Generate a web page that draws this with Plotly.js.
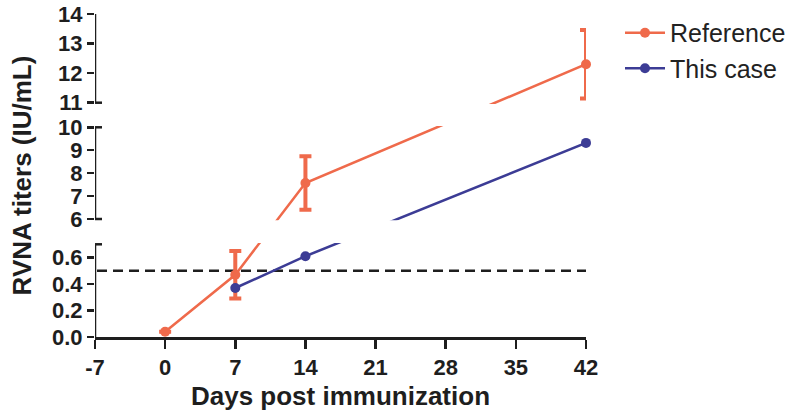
<!DOCTYPE html>
<html>
<head>
<meta charset="utf-8">
<script src="https://cdn.plot.ly/plotly-3.0.1.min.js"></script>
<style>
  html, body { margin: 0; padding: 0; background: #fff; }
  #chart { width: 800px; height: 415px; }
</style>
</head>
<body>
<div id="chart"></div>
<script>
// ---- data ----
const days = [0, 7, 14, 42];
const refValues = [0.04, 0.47, 7.57, 12.3];
const refErrors = [0, 0.18, 1.17, 1.16];
const caseDays = [7, 14, 42];
const caseValues = [0.37, 0.61, 9.32];
const threshold = 0.5;
const xTicks = [-7, 0, 7, 14, 21, 28, 35, 42];
const yTickValues = [0, 0.2, 0.4, 0.6, 6, 7, 8, 9, 10, 11, 12, 13, 14];
const yTickLabels = ['0.0', '0.2', '0.4', '0.6', '6', '7', '8', '9', '10', '11', '12', '13', '14'];

// ---- broken y-axis scale (segment layout, in axis units) ----
const segLo = [0, 6, 11];
const segHi = [0.7, 10, 14];
const segV0 = [0, 118, 234.3];
const segV1 = [92.7, 209.7, 323];
function brk(d) {
  let i = 0;
  while (i < segHi.length - 1 && d > segHi[i] + 1e-9) i++;
  return segV0[i] + (d - segLo[i]) * (segV1[i] - segV0[i]) / (segHi[i] - segLo[i]);
}

const orange = '#EF6A4B';
const blue = '#3C3C95';
const ink = '#1e1e1e';
const font = 'Liberation Sans, Arial, sans-serif';

const refY = refValues.map(brk);
const refPlus = refValues.map((v, i) => brk(v + refErrors[i]) - brk(v));
const refMinus = refValues.map((v, i) => brk(v) - brk(v - refErrors[i]));

const traces = [
  {
    x: days, y: refY, type: 'scatter', mode: 'lines+markers', name: 'Reference',
    legendgroup: 'a', cliponaxis: false,
    line: { color: orange, width: 2.5 },
    marker: { color: orange, size: 10 },
    error_y: { type: 'data', array: refPlus, arrayminus: refMinus, symmetric: false,
               color: orange, thickness: 4, width: 6 }
  },
  {
    x: caseDays, y: caseValues.map(brk), type: 'scatter', mode: 'lines+markers', name: 'This case',
    legendgroup: 'b', cliponaxis: false,
    line: { color: blue, width: 2.5 },
    marker: { color: blue, size: 10 }
  }
];

const shapes = [];
// threshold dashed line
shapes.push({ type: 'line', xref: 'x', yref: 'y', x0: -6.8, x1: 42, y0: brk(threshold), y1: brk(threshold),
  line: { color: ink, width: 2.5, dash: '10px,6px' }, layer: 'below' });
// gap masks
for (let i = 0; i < segLo.length - 1; i++) {
  shapes.push({ type: 'rect', xref: 'paper', yref: 'y', x0: 0.004, x1: 1.03,
    y0: segV1[i] + 1.3, y1: segV0[i + 1] - 1.3, fillcolor: '#ffffff', line: { width: 0 }, layer: 'above' });
}
// y-axis segments with break caps
for (let i = 0; i < segLo.length; i++) {
  shapes.push({ type: 'line', xref: 'x', yref: 'y', x0: -7, x1: -7, y0: segV0[i], y1: segV1[i],
    line: { color: ink, width: 2.5 }, layer: 'above' });
  if (i > 0) {
    shapes.push({ type: 'line', xref: 'x', yref: 'y', xsizemode: 'pixel', xanchor: -7, x0: -7, x1: 7,
      y0: segV0[i], y1: segV0[i], line: { color: ink, width: 2.5 }, layer: 'above' });
  }
  if (i < segLo.length - 1) {
    shapes.push({ type: 'line', xref: 'x', yref: 'y', xsizemode: 'pixel', xanchor: -7, x0: -7, x1: 7,
      y0: segV1[i], y1: segV1[i], line: { color: ink, width: 2.5 }, layer: 'above' });
  }
}

const layout = {
  width: 800, height: 415,
  margin: { l: 95, r: 214, t: 14, b: 78 },
  paper_bgcolor: '#fff', plot_bgcolor: '#fff',
  showlegend: true,
  legend: { xref: 'container', yref: 'container', x: 0.775, y: 0.976, xanchor: 'left', yanchor: 'top',
            tracegroupgap: 0, itemwidth: 40,
            font: { family: font, size: 25, color: '#222' }, bgcolor: 'rgba(0,0,0,0)' },
  xaxis: {
    range: [-7, 42], tickvals: xTicks, ticktext: xTicks.map(String),
    showgrid: false, zeroline: false, showline: true, linecolor: ink, linewidth: 2.5,
    ticks: 'outside', ticklen: 9, tickwidth: 2.5, tickcolor: ink,
    tickfont: { family: font, size: 22, color: ink, weight: 'bold' },
    title: { text: '<b>Days post immunization</b>', font: { family: font, size: 26, color: ink }, standoff: 8 }
  },
  yaxis: {
    range: [0, 323], tickvals: yTickValues.map(brk), ticktext: yTickLabels,
    showgrid: false, zeroline: false, showline: false,
    ticks: 'outside', ticklen: 7, tickwidth: 2.5, tickcolor: ink,
    tickfont: { family: font, size: 22, color: ink, weight: 'bold' },
    title: { text: '<b>RVNA titers (IU/mL)</b>', font: { family: font, size: 26, color: ink }, standoff: 12 }
  },
  shapes: shapes
};

Plotly.newPlot('chart', traces, layout, { staticPlot: true, displayModeBar: false });
</script>
</body>
</html>
